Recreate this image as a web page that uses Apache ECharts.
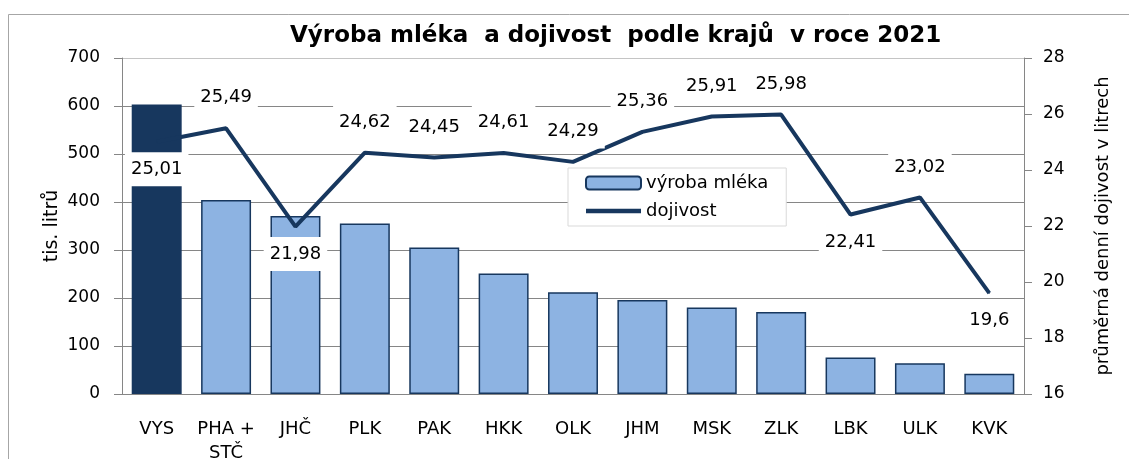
<!DOCTYPE html>
<html>
<head>
<meta charset="utf-8">
<script src="https://cdn.jsdelivr.net/npm/echarts@6/dist/echarts.min.js"></script>
<style>
  html, body { margin: 0; padding: 0; background: #fff; }
  #chart { width: 1129px; height: 459px; }
</style>
</head>
<body>
<div id="chart"></div>
<script>
  // data
  const kraje = ['VYS', 'PHA +\nSTČ', 'JHČ', 'PLK', 'PAK', 'HKK', 'OLK', 'JHM', 'MSK', 'ZLK', 'LBK', 'ULK', 'KVK'];
  const vyrobaMleka = [603, 404, 371, 355, 305, 251, 212, 196, 180, 171, 76, 64, 42];
  const dojivost = [25.01, 25.49, 21.98, 24.62, 24.45, 24.61, 24.29, 25.36, 25.91, 25.98, 22.41, 23.02, 19.6];
  const leftTicks = [0, 700, 100];
  const rightTicks = [16, 28, 2];

  const font = 'DejaVu Sans';
  const dark = '#17375E';
  const light = '#8DB3E2';

  // labels that Excel put below the line
  const labelBelow = [0, 2, 10, 12];

  let chart = echarts.init(document.getElementById('chart'));

  let barData = vyrobaMleka.map(function (v, i) {
    if (i === 0) return { value: v, itemStyle: { color: dark } };
    return v;
  });

  let lineData = dojivost.map(function (v, i) {
    if (labelBelow.indexOf(i) >= 0) {
      return { value: v, label: { position: 'bottom', distance: 10 } };
    }
    return v;
  });

  let option = {
    backgroundColor: '#fff',
    animation: false,
    title: {
      text: 'Výroba mléka  a dojivost  podle krajů  v roce 2021',
      left: 290,
      top: 25,
      padding: 0,
      textStyle: { fontFamily: font, fontWeight: 'bold', fontSize: 23, color: '#000' }
    },
    graphic: [{
      type: 'rect',
      z: -1,
      shape: { x: 8.5, y: 14.5, width: 1300, height: 600 },
      style: { fill: 'none', stroke: '#a6a6a6', lineWidth: 1 }
    }],
    legend: {
      orient: 'vertical',
      left: 568,
      top: 168,
      padding: [6, 18, 6, 17],
      itemWidth: 55,
      itemHeight: 13,
      itemGap: 10,
      backgroundColor: '#fff',
      borderColor: '#d9d9d9',
      borderWidth: 1,
      textStyle: { fontFamily: font, fontSize: 18, color: '#000' },
      data: [
        { name: 'výroba mléka' },
        { name: 'dojivost', icon: 'path://M0 0H55V4.5H0Z' }
      ]
    },
    grid: { left: 122, right: 105, top: 58, bottom: 65, containLabel: false, outerBoundsMode: 'none' },
    xAxis: {
      type: 'category',
      data: kraje,
      axisLine: { lineStyle: { color: '#868686' } },
      axisTick: { length: 8, lineStyle: { color: '#868686' } },
      axisLabel: { fontFamily: font, fontSize: 18, color: '#000', margin: 23, lineHeight: 24, interval: 0 }
    },
    yAxis: [{
      type: 'value',
      min: leftTicks[0], max: leftTicks[1], interval: leftTicks[2],
      name: 'tis. litrů',
      nameLocation: 'middle',
      nameRotate: 90,
      nameGap: 60,
      nameMoveOverlap: false,
      nameTextStyle: { fontFamily: font, fontSize: 19, color: '#000' },
      axisLine: { show: true, lineStyle: { color: '#868686' } },
      axisTick: { show: true, length: 8, lineStyle: { color: '#868686' } },
      axisLabel: { fontFamily: font, fontSize: 17, color: '#000', margin: 22 },
      splitLine: { lineStyle: { color: ['#868686', '#868686', '#868686', '#868686', '#868686', '#868686', '#868686', '#c4c4c4'] } }
    }, {
      type: 'value',
      position: 'right',
      min: rightTicks[0], max: rightTicks[1], interval: rightTicks[2],
      name: 'průměrná denní dojivost v litrech',
      nameLocation: 'middle',
      nameRotate: 90,
      nameGap: 70,
      nameMoveOverlap: false,
      nameTextStyle: { fontFamily: font, fontSize: 18, color: '#000' },
      axisLine: { show: true, lineStyle: { color: '#868686' } },
      axisTick: { show: true, length: 8, lineStyle: { color: '#868686' } },
      axisLabel: { fontFamily: font, fontSize: 17, color: '#000', margin: 19 },
      splitLine: { show: false }
    }],
    series: [{
      name: 'výroba mléka',
      type: 'bar',
      yAxisIndex: 0,
      barCategoryGap: '28%',
      data: barData,
      itemStyle: { color: light, borderColor: dark, borderWidth: 1.5 }
    }, {
      name: 'dojivost',
      type: 'line',
      yAxisIndex: 1,
      data: lineData,
      symbol: 'circle',
      symbolSize: 1,
      showSymbol: true,
      z: 5,
      lineStyle: { color: dark, width: 4 },
      itemStyle: { color: dark },
      label: {
        show: true,
        position: 'top',
        distance: 13,
        fontFamily: font,
        fontSize: 18,
        lineHeight: 18,
        color: '#000',
        backgroundColor: '#fff',
        padding: [8, 6],
        formatter: function (p) { return String(p.value).replace('.', ','); }
      }
    }]
  };

  chart.setOption(option);
  window.addEventListener('resize', function () { chart.resize(); });
</script>
</body>
</html>
